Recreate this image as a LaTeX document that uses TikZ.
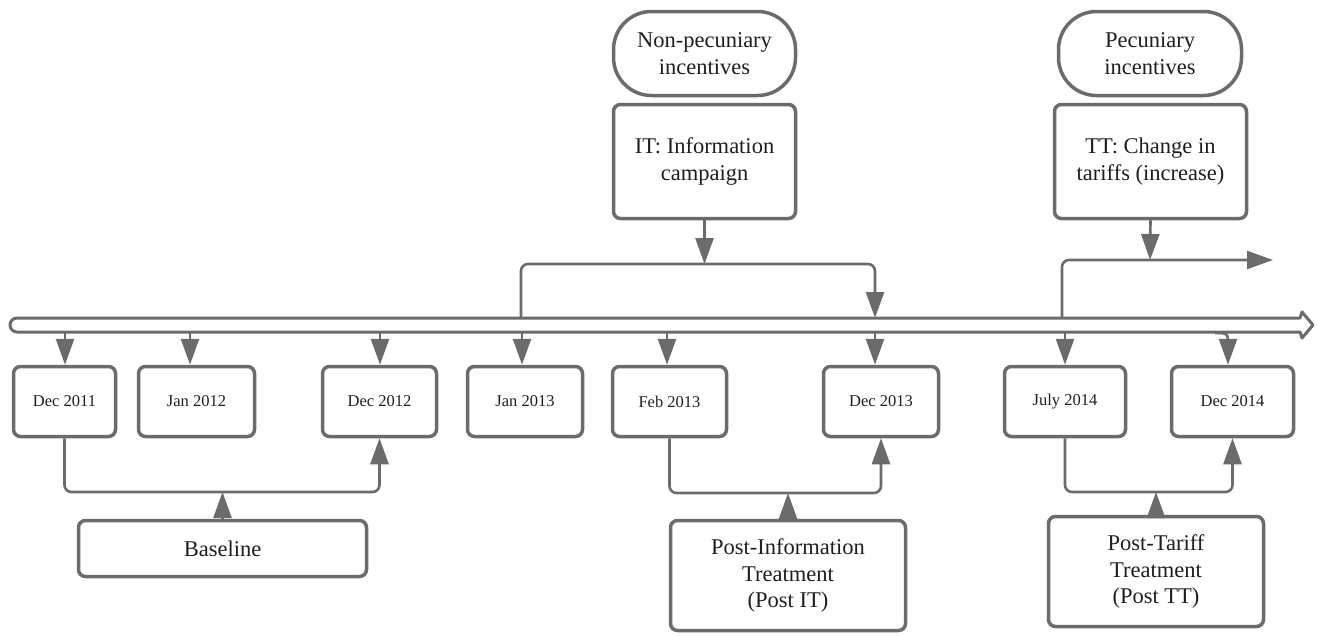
\documentclass[tikz,border=0pt]{standalone}
\usepackage{fontspec}
\newfontfamily\tnr{LiberationSerif}[Extension=.ttf, UprightFont=*-Regular, BoldFont=*-Bold]
\usetikzlibrary{arrows.meta}
\definecolor{ln}{HTML}{6B6B6B}
\definecolor{tx}{HTML}{1E1E1E}
\begin{document}
\begin{tikzpicture}[x=1pt,y=-1pt,
 box/.style={draw=ln, line width=3.5pt, rounded corners=7pt, text=tx, align=center, inner sep=0pt},
 datebox/.style={box, minimum height=70pt, font=\tnr\fontsize{16.5}{20}\selectfont},
 bigbox/.style={box, font=\tnr\fontsize{22.5}{26.7}\selectfont},
 pill/.style={bigbox, rounded corners=38pt},
 conn/.style={draw=ln, line width=2.6pt, rounded corners=7pt},
 arr/.style={conn, -{Triangle[length=26pt,width=18pt]}},
 bar/.style={draw=ln, line width=3pt, line join=round}]
\useasboundingbox (0,0) rectangle (1317,635);

% top boxes
\node[pill, minimum width=182pt, minimum height=84pt] (npi) at (704.5,53.5) {Non-pecuniary\\incentives};
\node[bigbox, minimum width=182pt, minimum height=114pt] (it) at (704.5,161.5) {IT: Information\\campaign};
\node[pill, minimum width=183pt, minimum height=84pt] (pi) at (1150,53.5) {Pecuniary\\incentives};
\node[bigbox, minimum width=192pt, minimum height=114pt] (tt) at (1150.5,161.5) {TT: Change in\\tariffs (increase)};

% date boxes
\node[datebox, minimum width=102pt] (d1) at (64.5,401.5) {Dec 2011};
\node[datebox, minimum width=116pt] (d2) at (196.5,401.5) {Jan 2012};
\node[datebox, minimum width=114pt] (d3) at (379.5,401.5) {Dec 2012};
\node[datebox, minimum width=115pt] (d4) at (525,401.5) {Jan 2013};
\node[datebox, minimum width=114pt] (d5) at (669.5,401.5) {Feb 2013};
\node[datebox, minimum width=115pt] (d6) at (881,401.5) {Dec 2013};
\node[datebox, minimum width=121pt] (d7) at (1065,401.5) {July 2014};
\node[datebox, minimum width=122pt] (d8) at (1232.5,401.5) {Dec 2014};

% period boxes
\node[bigbox, minimum width=288pt, minimum height=56pt] (base) at (222.5,548.5) {Baseline};
\node[bigbox, minimum width=235pt, minimum height=110pt] (postit) at (788,575.5) {Post-Information\\Treatment\\(Post IT)};
\node[bigbox, minimum width=215pt, minimum height=110pt] (posttt) at (1156,571.5) {Post-Tariff\\Treatment\\(Post TT)};

% timeline bar
\draw[bar] (1300,318) -- (17,318) arc[start angle=270, end angle=90, radius=7] -- (1300,332) -- (1302,338) -- (1313,325) -- (1302,312) -- cycle;

% bar coordinates
\coordinate (b1) at (65,332);
\coordinate (b2) at (190,332);
\coordinate (b3) at (380,332);
\coordinate (b4) at (522,332);
\coordinate (b5) at (667,332);
\coordinate (b6) at (875,332);
\coordinate (b7) at (1065,332);
\coordinate (b8) at (1215,333);
\coordinate (k8) at (1228,346);
\coordinate (t4) at (521,318);
\coordinate (t6) at (875,318);
\coordinate (t7) at (1062,318);
\coordinate (j1) at (704.5,264);
\coordinate (j2) at (1150,260);
\coordinate (e2) at (1273,260);
\coordinate (m1) at (222,492);
\coordinate (m2) at (788,493);
\coordinate (m3) at (1156,492);

% bar to dates
\draw[arr] (b1) -- (b1 |- d1.north);
\draw[arr] (b2) -- (b2 |- d2.north);
\draw[arr] (b3) -- (b3 |- d3.north);
\draw[arr] (b4) -- (b4 |- d4.north);
\draw[arr] (b5) -- (b5 |- d5.north);
\draw[arr] (b6) -- (b6 |- d6.north);
\draw[arr] (b7) -- (b7 |- d7.north);
\draw[arr, rounded corners=0pt] (b8) .. controls (b8 -| k8) .. (k8) -- (k8 |- d8.north);

% information treatment
\draw[arr] (it.south) -- (j1);
\draw[arr] (t4) |- (t6 |- j1) -- (t6);

% tariff treatment
\draw[arr] (tt.south) -- (j2);
\draw[arr] (t7) |- (e2);

% bottom brackets
\draw[arr] (d1.south) |- (d3.south |- m1) -- (d3.south);
\draw[arr] (base.north) -- (base.north |- m1);
\draw[arr] (d5.south) |- (d6.south |- m2) -- (d6.south);
\draw[arr] (postit.north) -- (m2);
\draw[arr] (d7.south) |- (d8.south |- m3) -- (d8.south);
\draw[arr] (posttt.north) -- (m3);
\end{tikzpicture}
\end{document}
